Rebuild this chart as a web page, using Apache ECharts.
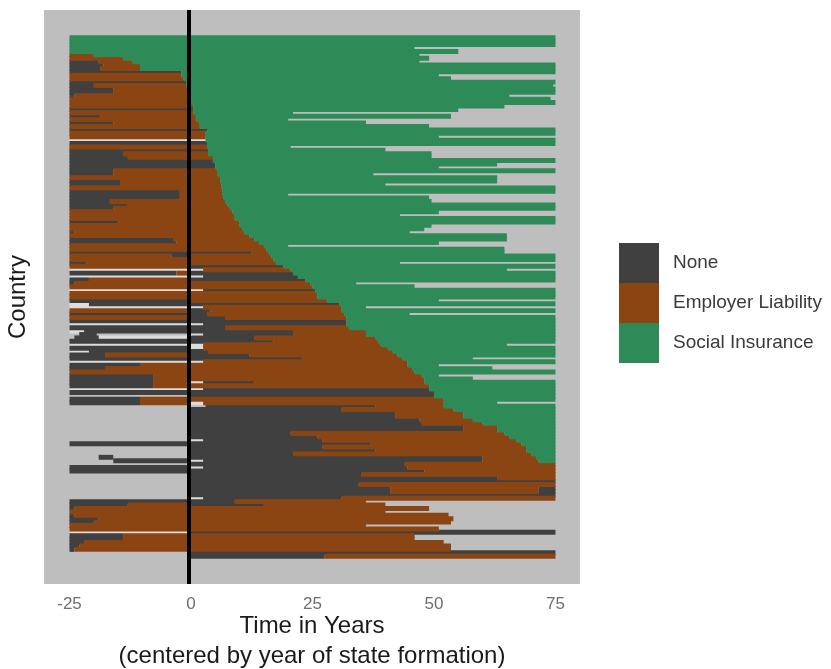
<!DOCTYPE html>
<html>
<head>
<meta charset="utf-8">
<title>Workers' compensation regimes by country</title>
<script src="https://cdn.jsdelivr.net/npm/echarts@6.0.0/dist/echarts.min.js"></script>
<style>
  html, body { margin: 0; padding: 0; background: #ffffff; }
  #chart { width: 831px; height: 669px; }
</style>
</head>
<body>
<div id="chart"></div>
<script>
// Policy categories and their fills
const categories = ['None', 'Employer Liability', 'Social Insurance'];
const categoryCodes = ['N', 'E', 'S'];
const categoryColors = ['#404040', '#8b4513', '#2e8b57'];
const missingColor = '#dcdcdc'; // 'W' spells: years recorded as missing
const tickYears = [-25, 0, 25, 50, 75];
const formationLine = -0.5; // edge between the last pre-formation year and year 0

// Each country is a run of spells: start, code, end, code, end ...
// Codes: N none, E employer liability, S social insurance, W missing, '-' not observed.
// Countries are ordered by the year social insurance begins.
const spellsEarlySI = [
  [-25,'S',75],
  [-25,'S',75],
  [-25,'S',75],
  [-25,'S',46],
  [-25,'S',55],
  [-25,'E',-20,'S',47],
  [-25,'E',-14,'S',49],
  [-25,'N',-19,'E',-12,'S',47],
  [-25,'N',-18,'E',-10.5,'S',75],
  [-25,'N',-18.7,'E',-10.5,'S',75],
  [-25,'N',-2,'S',75],
  [-25,'E',-2,'S',51],
  [-25,'E',-1.5,'S',53.5],
  [-25,'N',-1,'S',75],
  [-25,'N',-20,'E',-1,'S',74.5],
  [-25,'N',-16,'E',-0.5,'S',75],
  [-25,'N',-16,'E',-0.5,'S',75],
  [-25,'N',-24,'E',0,'S',65.5],
  [-25,'E',0,'S',74],
  [-25,'E',0,'S',75],
  [-25,'E',0.5,'S',64.5],
  [-25,'N',0.5,'S',55],
  [-25,'E',0.5,'S',21],
  [-25,'N',-18.7,'E',1,'S',53.5],
  [-25,'E',1,'S',20]
];

const spellsSIAtFormation = [
  [-25,'N',-16,'E',1.8,'S',36],
  [-25,'E',1.8,'S',49],
  [-25,'N',3.3,'S',75],
  [-25,'E',3,'S',75],
  [-25,'E',3,'S',51],
  [-25,'W',3,'S',75],
  [-25,'N',3.3,'S',75],
  [-25,'E',3.3,'S',20.5],
  [-25,'N',3.5,'S',40],
  [-25,'N',-14,'E',3.5,'S',49.5],
  [-25,'N',-13,'E',4.5,'S',49.5],
  [-25,'N',4.5,'S',75],
  [-25,'N',5,'S',63],
  [-25,'N',5,'S',51],
  [-25,'N',-16,'E',5.5,'S',75],
  [-25,'N',-16,'E',5.5,'S',37.5],
  [-25,'E',6,'S',63],
  [-25,'N',-14.6,'E',6,'S',63],
  [-25,'N',-14.6,'E',6.3,'S',40],
  [-25,'E',6.3,'S',75],
  [-25,'N',-2.3,'E',6.5,'S',75],
  [-25,'N',-2.3,'E',6.5,'S',20],
  [-25,'N',-2.3,'E',6.7,'S',49]
];

const spellsSIFirstDecades = [
  [-25,'N',-16.7,'E',7,'S',49.5],
  [-25,'N',-13,'E',7.5,'S',75],
  [-25,'N',-16,'E',8,'S',75],
  [-25,'E',8.5,'S',51],
  [-25,'E',9,'S',43],
  [-25,'E',9,'S',75],
  [-25,'N',-15,'E',10,'S',75],
  [-25,'E',10,'S',49.5],
  [-25,'E',10.5,'S',48],
  [-25,'N',-24,'E',11,'S',45],
  [-25,'E',12,'S',65],
  [-25,'N',-3.7,'E',13,'S',65],
  [-25,'N',-3,'E',14,'S',51],
  [-25,'E',15,'S',20],
  [-25,'E',15.5,'S',64.5],
  [-25,'N',12.5,'E',16,'S',64.5],
  [-25,'E',-4,'N',0,'E',16.5,'S',75],
  [-25,'E',17,'S',75],
  [-25,'N',-21.5,'E',17.5,'S',43],
  [-25,'E',0,'N',19,'S',75],
  [-25,'W',2.5,'E',20.5,'S',65],
  [-25,'N',-3,'E',0,'N',21,'S',75],
  [-25,'W',2.5,'N',22,'S',75],
  [-25,'N',-21,'E',0,'N',23.5,'S',75],
  [-25,'N',-24,'E',24.5,'S',34],
  [-25,'E',25,'S',46],
  [-25,'W',2.5,'N',25.5,'S',75],
  [-25,'E',26,'S',75]
];

const spellsSILater = [
  [-25,'E',26,'S',75],
  [-25,'N',0,'E',28,'S',51],
  [-25,'W',-21,'N',30.5,'S',75],
  [-25,'W',2.5,'E',31,'S',36],
  [-25,'E',0,'N',4,'E',31,'S',75],
  [-25,'N',3.3,'E',31.5,'S',45],
  [-25,'E',0,'N',7,'E',32,'S',75],
  [-25,'N',32,'S',75],
  [-25,'W',2.5,'N',32,'S',75],
  [-25,'N',7,'E',32.5,'S',75],
  [-25,'W',-22,'N',21,'E',36,'S',75],
  [-23,'N',-19.4,'-',0,'W',2.5,'N',21,'E',36,'S',75],
  [-24,'N',-19,'W',0,'N',13,'E',38,'S',75],
  [-25,'N',17,'E',38.5,'S',75],
  [-25,'W',2.5,'E',39,'S',65],
  [-25,'N',0,'W',2.5,'E',40.5,'S',75],
  [-25,'W',-21,'N',3.5,'E',41.5,'S',75],
  [-25,'N',-17.7,'E',0,'N',12,'E',42.5,'S',75],
  [-25,'N',23,'E',43.5,'S',58],
  [-25,'W',2.5,'E',44.5,'S',75],
  [-25,'N',-10.5,'E',44.5,'S',51],
  [-25,'N',-17.7,'E',45.5,'S',62],
  [-25,'E',46,'S',75],
  [-25,'N',-7.8,'E',47.5,'S',51],
  [-25,'N',-7.8,'E',48,'S',58],
  [-25,'N',-7.8,'E',0,'W',2.5,'N',13,'E',48,'S',75],
  [-25,'N',-7.8,'E',49,'S',75],
  [-25,'W',2.5,'N',49,'S',75]
];

const spellsSILate = [
  [-25,'N',50,'S',75],
  [0,'N',50,'S',75],
  [-25,'N',-10.5,'E',52,'S',75],
  [-25,'N',-10.5,'E',0,'W',2.5,'E',52,'S',63],
  [3,'N',38,'E',52,'S',75],
  [0,'N',31,'E',54,'S',75],
  [0,'N',42,'E',56,'S',75],
  [0,'N',42,'E',56,'S',75],
  [0,'N',47,'E',58,'S',75],
  [0,'N',47.5,'E',60,'S',75],
  [0,'N',56,'E',63,'S',75],
  [0,'N',56,'E',63,'S',75],
  [0,'N',20.5,'E',64.5,'S',75],
  [0,'N',26,'E',65.5,'S',75],
  [0,'W',2.5,'N',27,'E',67,'S',75],
  [-25,'N',37,'E',68,'S',75],
  [0,'N',27,'E',69,'S',75],
  [0,'N',38,'E',69,'S',75],
  [0,'N',21,'E',70,'S',75],
  [-19,'N',-16,'-',0,'N',60,'E',71,'S',75],
  [-16,'N',0,'W',2.5,'N',60,'E',71.5,'S',75]
];

const spellsNoSI = [
  [0,'N',44,'E',75],
  [-25,'N',0,'W',2.5,'N',44.5,'E',75],
  [-25,'N',48,'E',75],
  [0,'N',35,'E',75],
  [0,'N',63,'E',75],
  [0,'N',75],
  [0,'N',34.5,'E',75],
  [0,'N',41,'E',71.5,'N',75],
  [0,'N',41,'E',71.5,'N',75],
  [0,'N',75],
  [0,'W',2.5,'N',31,'E',75],
  [-25,'N',9,'E',36],
  [-25,'N',-13,'E',0,'N',15,'E',40],
  [-25,'N',-24,'E',49],
  [-25,'E',40],
  [-25,'N',-24,'E',53],
  [-25,'N',-19,'E',54],
  [-25,'N',-20,'E',53.5],
  [-25,'E',36],
  [-25,'E',51],
  [-25,'W',0,'N',75],
  [-25,'N',-14,'E',46],
  [-25,'N',-14,'E',46],
  [-25,'N',-22,'E',52],
  [-25,'N',-23,'E',53.5],
  [-25,'N',-24,'E',53.5],
  [0,'N',75],
  [0,'N',27.5,'E',75]
];

const countries = [].concat(
  spellsEarlySI, spellsSIAtFormation, spellsSIFirstDecades,
  spellsSILater, spellsSILate, spellsNoSI
);
const rowCount = countries.length;

// Split every country's spells into per-code segment lists: [row, start, end]
const segmentsByCode = { N: [], E: [], S: [], W: [] };
countries.forEach(function (spells, row) {
  for (let i = 0; i + 2 < spells.length; i += 2) {
    const code = spells[i + 1];
    if (segmentsByCode[code]) {
      segmentsByCode[code].push([row, spells[i], spells[i + 2]]);
    }
  }
});

// Each spell is a thick horizontal band; bands slightly overlap their neighbours
function renderSpell(params, api) {
  const row = api.value(0);
  const p0 = api.coord([api.value(1), row]);
  const p1 = api.coord([api.value(2), row]);
  const h = Math.abs(api.size([0, 1])[1]) * 1.45;
  return {
    type: 'rect',
    shape: { x: p0[0], y: p0[1] - h / 2, width: p1[0] - p0[0], height: h },
    style: { fill: api.visual('color') }
  };
}

function spellSeries(name, code, color) {
  return {
    name: name,
    type: 'custom',
    renderItem: renderSpell,
    itemStyle: { color: color },
    encode: { x: [1, 2], y: 0 },
    data: segmentsByCode[code],
    silent: true
  };
}

const pad = rowCount * 0.05;
const series = [spellSeries('Missing', 'W', missingColor)];
categories.forEach(function (name, k) {
  series.push(spellSeries(name, categoryCodes[k], categoryColors[k]));
});
// Year of state formation
series[series.length - 1].markLine = {
  silent: true,
  symbol: 'none',
  label: { show: false },
  lineStyle: { color: '#000000', width: 4, type: 'solid' },
  data: [{ xAxis: formationLine }]
};

const chart = echarts.init(document.getElementById('chart'), null, { renderer: 'canvas' });
chart.setOption({
  animation: false,
  textStyle: { fontFamily: 'Liberation Sans, Arial, sans-serif' },
  grid: {
    left: 44, right: 251, top: 10, bottom: 85,
    outerBoundsMode: 'none',
    containLabel: false,
    show: true, backgroundColor: '#bebebe', borderWidth: 0
  },
  xAxis: {
    type: 'value',
    min: -30.25, max: 80.05,
    splitLine: { show: false },
    axisLine: { show: false },
    axisTick: { show: false },
    axisLabel: {
      customValues: tickYears,
      color: '#6e6e6e', fontSize: 17, margin: 12
    },
    name: 'Time in Years\n(centered by year of state formation)',
    nameLocation: 'middle',
    nameMoveOverlap: false,
    nameGap: 27,
    nameTextStyle: { fontSize: 24, lineHeight: 30, color: '#1a1a1a' }
  },
  yAxis: {
    type: 'value',
    inverse: true,
    min: -0.5 - pad, max: rowCount - 0.5 + pad,
    splitLine: { show: false },
    axisLine: { show: false },
    axisTick: { show: false },
    axisLabel: { show: false },
    name: 'Country',
    nameLocation: 'middle',
    nameRotate: 90,
    nameMoveOverlap: false,
    nameGap: 14,
    nameTextStyle: { fontSize: 24, color: '#1a1a1a' }
  },
  legend: {
    data: categories,
    orient: 'vertical',
    left: 619, top: 243,
    padding: 0,
    icon: 'rect',
    itemWidth: 40, itemHeight: 40, itemGap: 0,
    selectedMode: false,
    textStyle: { fontSize: 19, color: '#3a3a3a', padding: [0, 0, 0, 9] }
  },
  series: series
});
</script>
</body>
</html>
